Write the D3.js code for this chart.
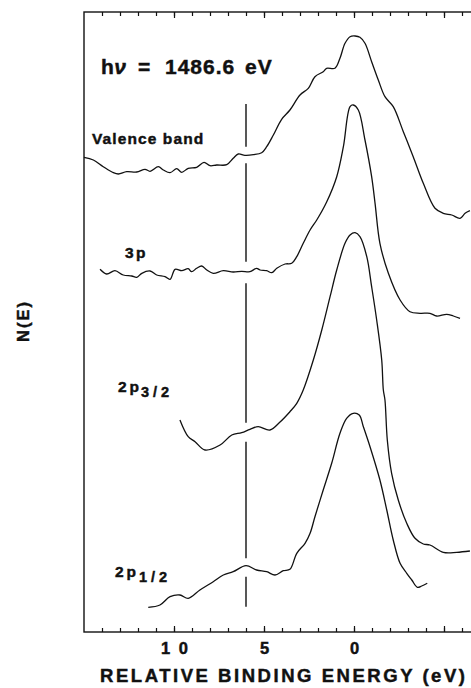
<!DOCTYPE html>
<meta charset="utf-8">

<!-- Load d3.js -->
<script src="https://d3js.org/d3.v7.min.js"></script>

<style>
  body { margin: 0; background: #fff; }
  text { font-family: "Liberation Sans", Arial, Helvetica, sans-serif; font-weight: bold; fill: #111; stroke: #111; stroke-width: 0.45px; }
</style>

<body>
<div id="visual"></div>

<script>

// spectra: [relative binding energy (eV), N(E) in arbitrary units]
var valenceBand = [
  [15.0, 474.7], [14.48, 472], [13.93, 465.3], [13.37, 459.3], [13.09, 458], [12.63, 460.3],
  [12.07, 460], [11.61, 462.7], [11.33, 460.7], [10.87, 465.3], [10.59, 462], [10.22, 459.3],
  [9.85, 463.3], [9.57, 459.7], [9.21, 463.7], [8.74, 464.7], [8.33, 469.7], [8.0, 466.3],
  [7.63, 467], [7.07, 467.3], [6.71, 473.7], [6.43, 478], [6.06, 476.7], [5.59, 477.3],
  [5.13, 479.3], [4.85, 485.3], [4.48, 497], [4.02, 512.7], [3.56, 522], [3.0, 537],
  [2.54, 543.7], [2.17, 555.3], [1.71, 560.3], [1.52, 563.7], [1.06, 563.7], [0.78, 573.7],
  [0.5, 588.7], [0.22, 595.3], [-0.06, 596], [-0.33, 594.7], [-0.61, 588.7], [-0.98, 570.3],
  [-1.35, 552], [-1.72, 535.3], [-2.18, 525.3], [-2.74, 500.3], [-3.29, 475.3], [-3.85, 448.7],
  [-4.5, 423.7], [-4.96, 418.7], [-5.43, 417], [-5.89, 413.7], [-6.17, 418.7], [-6.44, 421.3]
];

var core3p = [
  [14.11, 362.7], [13.74, 358], [13.28, 361.3], [12.82, 357], [12.35, 356], [12.07, 354.7],
  [11.79, 358.7], [11.33, 361], [10.96, 357], [10.5, 355.3], [10.22, 352.7], [9.94, 362.7],
  [9.57, 361.3], [9.21, 363.3], [9.02, 360.3], [8.74, 363.7], [8.46, 366], [8.18, 362],
  [7.82, 358.7], [7.26, 361.3], [6.71, 360], [6.24, 360.7], [5.78, 360.3], [5.41, 363.7],
  [5.22, 362], [4.85, 361.3], [4.57, 359.3], [4.29, 363.7], [3.83, 368], [3.46, 368.7],
  [3.18, 375.3], [2.82, 388.7], [2.44, 402], [2.07, 412], [1.52, 430], [0.96, 455.3],
  [0.59, 485.3], [0.22, 525.3], [0.04, 527], [-0.24, 522], [-0.61, 492], [-0.98, 455.3],
  [-1.17, 428.7], [-1.44, 388.7], [-1.91, 358.7], [-2.56, 332], [-3.11, 320.3], [-3.67, 318.7],
  [-4.22, 318.7], [-4.59, 316], [-5.15, 317.7], [-5.52, 316], [-5.89, 313.7]
];

var core2p32 = [
  [9.67, 212], [9.21, 195.3], [8.83, 190.3], [8.28, 182], [7.44, 187], [6.79, 197],
  [6.24, 199.3], [5.78, 202.7], [5.32, 205.3], [4.67, 202], [4.11, 210], [3.56, 220.3],
  [3.18, 228.7], [2.82, 242], [2.26, 272], [1.79, 302], [1.33, 335.3], [0.96, 362],
  [0.5, 388.7], [0.22, 397], [-0.06, 399.3], [-0.33, 395.3], [-0.71, 375.3], [-0.98, 345.3],
  [-1.26, 312], [-1.54, 272], [-1.63, 242], [-1.72, 232], [-1.85, 192], [-2.09, 158.7],
  [-2.46, 132], [-2.93, 108.7], [-3.39, 93.7], [-3.85, 88], [-4.22, 87], [-4.96, 79.7],
  [-5.71, 79.7], [-6.44, 81]
];

var core2p12 = [
  [11.43, 24.7], [10.78, 27], [10.22, 35.3], [9.67, 37], [9.21, 33.7], [8.56, 42],
  [7.82, 50.3], [7.26, 57], [6.71, 60.3], [6.0, 66.3], [5.41, 62], [4.85, 60.3],
  [4.39, 57], [3.93, 61.3], [3.56, 62.7], [3.18, 78.7], [2.72, 88.7], [2.44, 98.7],
  [2.17, 115.3], [1.71, 142], [1.24, 168.7], [0.78, 198.7], [0.41, 213.7], [0.04, 218.7],
  [-0.29, 217], [-0.52, 205.3], [-0.89, 185.3], [-1.44, 152], [-1.82, 122], [-2.18, 92],
  [-2.56, 68.7], [-2.93, 58.7], [-3.21, 52], [-3.52, 44.7], [-3.76, 46], [-4.07, 48.7]
];

// broken vertical marker at 6 eV (N(E) ranges of each piece)
var markerEnergy = 6.0;
var markerPieces = [[528, 485.3], [468.7, 370.3], [348.7, 209.3], [190.3, 73.7], [55.3, 25.3]];

// axis ticks
var majorTicks = [10, 5, 0, -5];
var majorLabels = ["1 0", "5", "0", ""];
var minorTicks = d3.range(-6, 15);

var width = 471, height = 688;

var svg = d3.select("#visual")
  .append("svg")
    .attr("width", width)
    .attr("height", height);

svg.append("rect").attr("width", width).attr("height", height).attr("fill", "#fff");

var x = d3.scaleLinear().domain([15, -7]).range([84, 480]);
var y = d3.scaleLinear().domain([0, 620]).range([632, 12]);

// frame (right side runs past the picture)
svg.append("rect")
  .attr("x", x(15)).attr("y", y(620))
  .attr("width", x(-7) - x(15)).attr("height", y(0) - y(620))
  .attr("fill", "none").attr("stroke", "#111").attr("stroke-width", 1.4);

// ticks, all pointing inside the frame
function addAxis(axis, ty) {
  var g = svg.append("g")
    .attr("transform", "translate(0," + ty + ")")
    .call(axis);
  g.select(".domain").remove();
  g.selectAll("line").attr("stroke", "#111").attr("stroke-width", 1.2);
  return g;
}

addAxis(d3.axisBottom(x).tickValues(minorTicks).tickSize(-4).tickFormat(""), y(0));
addAxis(d3.axisTop(x).tickValues(minorTicks).tickSize(-4).tickFormat(""), y(620));
addAxis(d3.axisTop(x).tickValues(majorTicks).tickSize(-6).tickFormat(""), y(620));

var bottom = addAxis(
  d3.axisBottom(x).tickValues(majorTicks).tickSize(-6).tickPadding(10)
    .tickFormat(function(d, i) { return majorLabels[i]; }),
  y(0));
bottom.selectAll("text")
  .attr("font-size", 16.5)
  .attr("font-family", null)
  .attr("letter-spacing", 2)
  .attr("dx", 1)
  .attr("fill", "#111");

// spectra
var line = d3.line()
  .x(function(d) { return x(d[0]); })
  .y(function(d) { return y(d[1]); })
  .curve(d3.curveCatmullRom.alpha(0.5));

[valenceBand, core3p, core2p32, core2p12].forEach(function(s) {
  svg.append("path")
    .datum(s)
    .attr("fill", "none")
    .attr("stroke", "#111")
    .attr("stroke-width", 1.3)
    .attr("stroke-linejoin", "round")
    .attr("d", line);
});

// marker line
svg.selectAll(".marker")
  .data(markerPieces)
  .enter().append("line")
    .attr("class", "marker")
    .attr("x1", x(markerEnergy)).attr("x2", x(markerEnergy))
    .attr("y1", function(d) { return y(d[0]); })
    .attr("y2", function(d) { return y(d[1]); })
    .attr("stroke", "#111")
    .attr("stroke-width", 1.4);

// labels
var hv = svg.append("text").attr("y", 73.5).attr("font-size", 21);
hv.append("tspan").attr("x", 101).text("h");
hv.append("tspan").attr("font-style", "italic").attr("dx", 0.5).text("ν");
hv.append("tspan").attr("x", 138).text("=");
hv.append("tspan").attr("x", 165).attr("letter-spacing", 1).text("1486.6");
hv.append("tspan").attr("x", 245).attr("letter-spacing", 1).text("eV");

svg.append("text")
  .attr("x", 92).attr("y", 144)
  .attr("font-size", 15.5).attr("letter-spacing", 1.1)
  .text("Valence band");

svg.append("text")
  .attr("x", 125).attr("y", 258)
  .attr("font-size", 15.5).attr("letter-spacing", 2.5)
  .text("3p");

var l32 = svg.append("text").attr("font-size", 15.5);
l32.append("tspan").attr("x", 118).attr("y", 391.5).attr("letter-spacing", 3).text("2p");
l32.append("tspan").attr("x", 141).attr("y", 396.5).attr("font-size", 14.5).attr("letter-spacing", 4).text("3/2");

var l12 = svg.append("text").attr("font-size", 15.5);
l12.append("tspan").attr("x", 115).attr("y", 576.5).attr("letter-spacing", 3).text("2p");
l12.append("tspan").attr("x", 139).attr("y", 581.5).attr("font-size", 14.5).attr("letter-spacing", 4).text("1/2");

svg.append("text")
  .attr("x", 100).attr("y", 682)
  .attr("font-size", 18.5)
  .attr("textLength", 365).attr("lengthAdjust", "spacing")
  .text("RELATIVE BINDING ENERGY (eV)");

svg.append("text")
  .attr("transform", "translate(29,321) rotate(-90)")
  .attr("text-anchor", "middle")
  .attr("font-size", 16.5).attr("letter-spacing", 2)
  .text("N(E)");

</script>
</body>
</html>
